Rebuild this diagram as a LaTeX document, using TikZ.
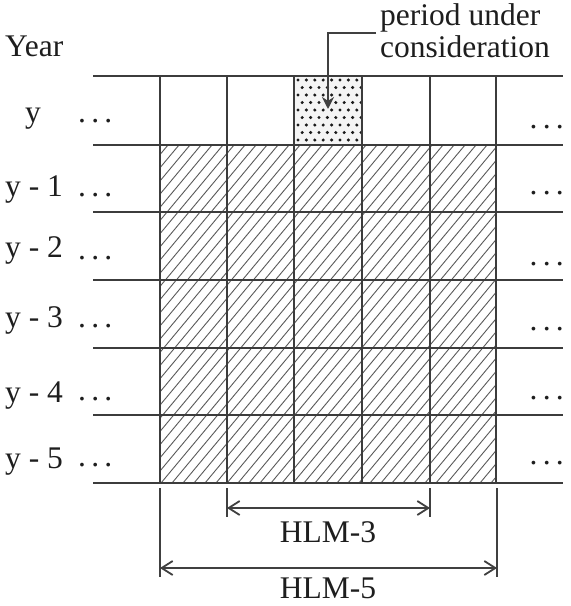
\documentclass[tikz,border=0pt]{standalone}
\usepackage{fontspec}
\setmainfont{Liberation Serif}
\usetikzlibrary{arrows.meta}
\definecolor{gridc}{HTML}{3C3C3C}
\definecolor{hatchc}{HTML}{5A5A5A}
\definecolor{txtc}{HTML}{1E1E1E}
\definecolor{dotbg}{HTML}{F4F4F4}
\definecolor{dotc}{HTML}{1A1A1A}
\definecolor{arrc}{HTML}{404040}
\begin{document}
\begin{tikzpicture}[x=1pt,y=-1pt,
  gridline/.style={draw=gridc, line width=1.4pt},
  hatchline/.style={draw=hatchc, line width=0.9pt},
  lbl/.style={inner sep=0pt, font=\fontsize{31.5}{34}\selectfont, text=txtc},
  ptr/.style={draw=arrc, line width=2.6pt, -{Stealth[length=12pt,width=12pt]}},
  tick/.style={draw=arrc, line width=1.8pt},
  dim/.style={draw=arrc, line width=1.8pt, {Straight Barb[length=11pt,width=14pt]}-{Straight Barb[length=11pt,width=14pt]}}
]
\useasboundingbox (0,0) rectangle (571,606);
\fill[white] (0,0) rectangle (571,606);

% dotted cell (period under consideration)
\fill[dotbg] (294,76) rectangle (362,145);
\begin{scope}
  \clip (295,77) rectangle (361,144);
  \foreach \r in {0,...,9} {
    \foreach \c in {0,...,8} {
      \fill[dotc] ({298+8.4*\c+4.2*mod(\r,2)},{80+7.5*\r}) circle (1.7pt);
    }
  }
\end{scope}

% hatched area
\begin{scope}
  \clip (160,145) rectangle (496,483);
  \foreach \k in {0,...,57} {
    \draw[hatchline] ({-125+11*\k},483) -- ++(282,-338);
  }
\end{scope}

% grid
\foreach \yy in {76,145,212,280,348,415,483} {
  \draw[gridline] (93,\yy) -- (563,\yy);
}
\foreach \xx in {160,227,294,362,430,496} {
  \draw[gridline] (\xx,76) -- (\xx,483);
}

% labels
\node[lbl, anchor=base west] (year) at (5,56) {Year};
\node[lbl, anchor=base] (ry) at (33,122) {y};
\node[lbl, anchor=base west] (ry1) at (5,196) {y - 1};
\node[lbl, anchor=base west] (ry2) at (5,257) {y - 2};
\node[lbl, anchor=base west] (ry3) at (5,327) {y - 3};
\node[lbl, anchor=base west] (ry4) at (5,402) {y - 4};
\node[lbl, anchor=base west] (ry5) at (5,468) {y - 5};

\foreach \b/\n in {122/0,196/1,259/2,327/3,400/4,466/5} {
  \node[lbl, anchor=base west] (ld\n) at (78,\b) {.\,.\,.};
}
\foreach \b/\n in {128/0,194/1,265/2,330/3,399/4,464/5} {
  \node[lbl, anchor=base east] (rd\n) at (564,\b) {.\,.\,.};
}

% period under consideration
\node[lbl, anchor=base west] (pl1) at (380,25) {period under};
\node[lbl, anchor=base west] (pl2) at (380,57) {consideration};
\coordinate (tip) at (328,109);
\draw[ptr] ([xshift=-4pt,yshift=-1pt]pl1.south west) -| (tip);

% dimension lines
\coordinate (t3l) at (227,488); \coordinate (t3lb) at (227,517);
\coordinate (t3r) at (430,488); \coordinate (t3rb) at (430,517);
\coordinate (t5l) at (160,488); \coordinate (t5lb) at (160,577);
\coordinate (t5r) at (497,488); \coordinate (t5rb) at (497,577);
\draw[tick] (t3l) -- (t3lb);
\draw[tick] (t3r) -- (t3rb);
\draw[tick] (t5l) -- (t5lb);
\draw[tick] (t5r) -- (t5rb);
\coordinate (a3l) at (227,508); \coordinate (a3r) at (430,508);
\coordinate (a5l) at (160,568); \coordinate (a5r) at (497,568);
\draw[dim] (a3l) -- (a3r);
\draw[dim] (a5l) -- (a5r);
\node[lbl, anchor=base] (hlm3) at (328,542) {HLM-3};
\node[lbl, anchor=base] (hlm5) at (328,598) {HLM-5};
\end{tikzpicture}
\end{document}
